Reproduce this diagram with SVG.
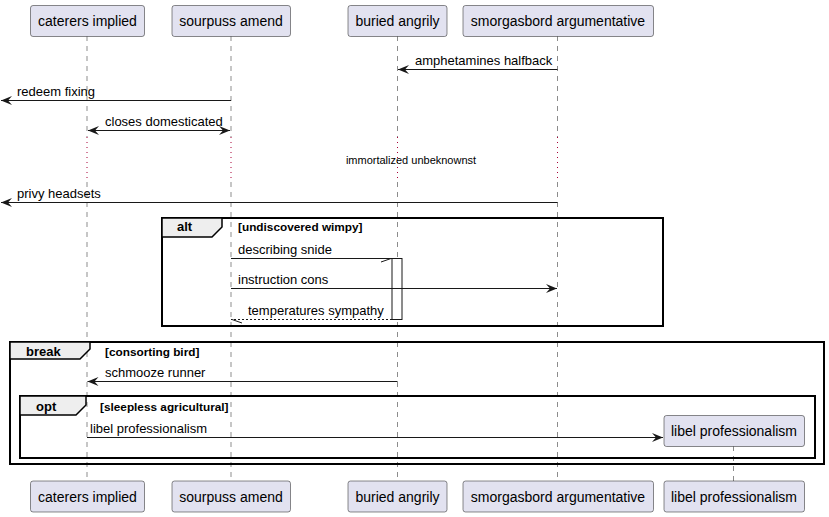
<svg xmlns="http://www.w3.org/2000/svg" width="829" height="517" viewBox="0 0 829 517">
<style>
.part rect{fill:#E2E2F0;stroke:#181818;stroke-width:0.5}
.pt{font-family:"Liberation Sans",Arial,sans-serif;font-size:14px;fill:#000;text-anchor:middle}
.lt{font-family:"Liberation Sans",Arial,sans-serif;font-size:13px;fill:#000}
.life{stroke:#181818;stroke-width:0.5;stroke-dasharray:5,5;fill:none}
.delay{stroke:#A80036;stroke-width:1;stroke-dasharray:1,4;fill:none}
.msg{stroke:#181818;stroke-width:1;fill:none}
.dash{stroke:#181818;stroke-width:1;fill:none;stroke-dasharray:2,2}
.frame{fill:none;stroke:#000;stroke-width:2}
.tab{fill:#EEEEEE;stroke:#000;stroke-width:1.5}
.ft{font-family:"Liberation Sans",Arial,sans-serif;font-size:13px;font-weight:bold;fill:#000}
.gt{font-family:"Liberation Sans",Arial,sans-serif;font-size:11.8px;font-weight:bold;fill:#000}
.dt{font-family:"Liberation Sans",Arial,sans-serif;font-size:11px;fill:#000;text-anchor:middle}
</style>
<defs>
<marker id="ah" markerUnits="userSpaceOnUse" markerWidth="14" markerHeight="10" refX="11" refY="4.5" orient="auto" overflow="visible">
<path d="M0,0 L11,4.5 L0,9 L4,4.5 Z" fill="#181818"/>
</marker>
<marker id="ahs" markerUnits="userSpaceOnUse" markerWidth="14" markerHeight="10" refX="11" refY="4.5" orient="auto-start-reverse" overflow="visible">
<path d="M0,0 L11,4.5 L0,9 L4,4.5 Z" fill="#181818"/>
</marker>
</defs>
<g id="lifelines">
<path class="life" d="M87,36 V137 M87,182 V481"/>
<path class="delay" d="M87,137 V182"/>
<path class="life" d="M231,36 V137 M231,182 V481"/>
<path class="delay" d="M231,137 V182"/>
<path class="life" d="M397.5,36 V137 M397.5,182 V481"/>
<path class="delay" d="M397.5,137 V182"/>
<path class="life" d="M557.5,36 V137 M557.5,182 V481"/>
<path class="delay" d="M557.5,137 V182"/>
<path class="life" d="M733.5,446 V481"/>
</g>
<g id="frames">
<g id="frame-alt">
<rect class="frame" x="162" y="218" width="501" height="108"/>
<path class="tab" d="M162,218 H222 V227 L212,237 H162 Z"/>
<text class="ft" x="177" y="231">alt</text>
<text class="gt" x="238" y="231">[undiscovered wimpy]</text>
</g>
<g id="frame-break">
<rect class="frame" x="10" y="342" width="814" height="122"/>
<path class="tab" d="M10,342 H90 V349 L80,359 H10 Z"/>
<text class="ft" x="26" y="356">break</text>
<text class="gt" x="105" y="356">[consorting bird]</text>
</g>
<g id="frame-opt">
<rect class="frame" x="20" y="396" width="795" height="62"/>
<path class="tab" d="M20,396 H86 V405 L76,415 H20 Z"/>
<text class="ft" x="36" y="411">opt</text>
<text class="gt" x="100" y="411">[sleepless agricultural]</text>
</g>
</g>
<g id="activation">
<rect x="392" y="258.5" width="10" height="61" fill="#FFFFFF" stroke="#181818" stroke-width="1"/>
</g>
<g id="connectors">
<line class="msg" x1="557.5" y1="69.5" x2="398" y2="69.5" marker-end="url(#ah)"/>
<text class="lt" x="415" y="65">amphetamines halfback</text>
<line class="msg" x1="231" y1="100.5" x2="1" y2="100.5" marker-end="url(#ah)"/>
<text class="lt" x="17" y="96">redeem fixing</text>
<line class="msg" x1="88" y1="130.5" x2="230" y2="130.5" marker-start="url(#ahs)" marker-end="url(#ah)"/>
<text class="lt" x="105" y="126">closes domesticated</text>
<text class="dt" x="411" y="164">immortalized unbeknownst</text>
<line class="msg" x1="557.5" y1="202.5" x2="1" y2="202.5" marker-end="url(#ah)"/>
<text class="lt" x="17" y="198">privy headsets</text>
<line class="msg" x1="231" y1="258.5" x2="392" y2="258.5"/>
<line class="msg" x1="381" y1="262" x2="391" y2="258.5"/>
<text class="lt" x="238" y="254">describing snide</text>
<line class="msg" x1="231" y1="288.5" x2="557" y2="288.5" marker-end="url(#ah)"/>
<text class="lt" x="238" y="284">instruction cons</text>
<line class="dash" x1="392" y1="319.5" x2="231" y2="319.5"/>
<line class="msg" x1="232" y1="319.5" x2="242" y2="323"/>
<text class="lt" x="248" y="315">temperatures sympathy</text>
<line class="msg" x1="397.5" y1="381.5" x2="87.5" y2="381.5" marker-end="url(#ah)"/>
<text class="lt" x="105" y="377">schmooze runner</text>
<line class="msg" x1="87" y1="437.5" x2="663" y2="437.5" marker-end="url(#ah)"/>
<text class="lt" x="90" y="433">libel professionalism</text>
</g>
<g id="p-caterers" class="part">
<rect x="30.5" y="5.5" width="114" height="31" rx="2.5"/>
<text class="pt" x="87.5" y="26">caterers implied</text>
<rect x="30.5" y="481" width="114" height="31" rx="2.5"/>
<text class="pt" x="87.5" y="501.5">caterers implied</text>
</g>
<g id="p-sourpuss" class="part">
<rect x="172" y="5.5" width="118.5" height="31" rx="2.5"/>
<text class="pt" x="231" y="26">sourpuss amend</text>
<rect x="172" y="481" width="118.5" height="31" rx="2.5"/>
<text class="pt" x="231" y="501.5">sourpuss amend</text>
</g>
<g id="p-buried" class="part">
<rect x="348" y="5.5" width="99" height="31" rx="2.5"/>
<text class="pt" x="397.5" y="26">buried angrily</text>
<rect x="348" y="481" width="99" height="31" rx="2.5"/>
<text class="pt" x="397.5" y="501.5">buried angrily</text>
</g>
<g id="p-smorgasbord" class="part">
<rect x="463" y="5.5" width="190.5" height="31" rx="2.5"/>
<text class="pt" x="558" y="26">smorgasbord argumentative</text>
<rect x="463" y="481" width="190.5" height="31" rx="2.5"/>
<text class="pt" x="558" y="501.5">smorgasbord argumentative</text>
</g>
<g id="p-libel" class="part">
<rect x="664" y="415.5" width="140.5" height="31" rx="2.5"/>
<text class="pt" x="734" y="436">libel professionalism</text>
<rect x="664" y="481" width="140.5" height="31" rx="2.5"/>
<text class="pt" x="734" y="501.5">libel professionalism</text>
</g>
</svg>
